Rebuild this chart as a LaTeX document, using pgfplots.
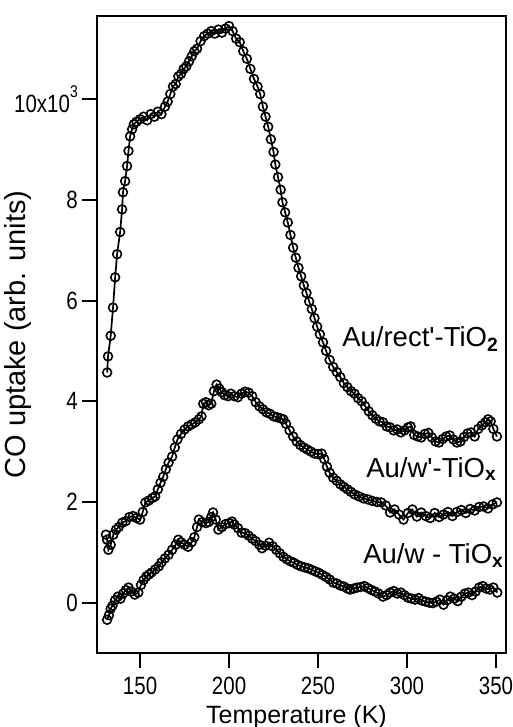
\documentclass[border=0pt]{standalone}
\usepackage{fontspec}
\setmainfont{Liberation Sans}
\newfontfamily\tickfont[FakeStretch=0.82]{Liberation Sans}
\usepackage{graphicx}
\usepackage{pgfplots}
\pgfplotsset{compat=1.18}

% CO uptake curves (arb. units) versus temperature (K)
\pgfplotstableread{
T uptake
131.5 4570
132.0 4890
133.5 5300
134.8 5860
136.0 6460
137.1 6920
138.8 7360
139.9 7810
140.4 8150
141.6 8370
142.7 8670
143.5 8970
144.4 9260
145.5 9400
146.5 9500
148 9550
150 9600
152 9650
154 9580
156 9700
158 9650
160 9750
162 9700
164 9850
165.5 9950
167 10100
168.5 10250
170 10300
171.5 10450
173 10500
174.5 10600
176 10650
177.5 10750
179 10850
180.5 10950
182 11000
184 11150
186 11250
188 11300
190 11350
192 11300
194 11380
196 11320
198 11400
200 11450
202 11350
204 11200
206 11130
208 10950
210 10800
212 10600
214 10400
216 10250
217.5 10100
219 9850
220.5 9650
222 9450
223.5 9200
225 8950
226 8700
227.5 8450
229 8200
230 7950
231.5 7750
233 7550
234.5 7300
236 7050
237.5 6850
239 6650
240.5 6480
242 6300
243.5 6150
245 5980
246.5 5830
248 5650
249.5 5480
251 5330
252.8 5170
254.5 5000
256.5 4820
258.5 4680
260.5 4580
262.5 4480
264.5 4360
266.5 4280
268.5 4200
270.5 4150
272.5 4060
274.5 4000
276.5 3900
278.5 3800
280.5 3720
282.5 3650
284.5 3600
286.5 3580
288.5 3500
290.5 3480
292.5 3420
294.5 3440
296.5 3380
298.5 3420
300.5 3480
302 3500
304 3330
306 3300
308 3280
310 3350
312 3370
314 3280
316 3200
318 3180
320 3250
322 3300
324 3320
326 3240
328 3180
330 3200
332 3290
334 3360
336 3380
338 3300
340 3450
342 3520
344 3580
345.5 3640
347 3600
348.5 3450
350.5 3300
}\rectdata

\pgfplotstableread{
T uptake
130.8 1350
131.5 1250
132.2 1050
133.5 1150
135 1350
136.5 1450
138 1500
140 1590
142 1620
144 1700
146 1720
148 1680
150 1650
151.5 1800
153 1990
155 2030
157 2080
158.5 2110
160 2250
161.5 2380
163 2500
164.5 2650
166 2780
168 2900
169.5 3080
171 3240
173 3350
175 3440
177 3500
179 3540
181 3580
183 3640
184.5 3700
185.5 3950
187 3980
188.5 3920
190 3950
191.5 4200
193 4330
194.5 4250
196 4180
197.5 4120
199.5 4100
201 4150
203 4100
205 4080
207 4150
209 4190
211 4170
213 4100
215 3980
217 3900
219 3840
221 3780
223 3750
225 3700
227 3680
229 3660
230.5 3640
232 3550
234 3420
236 3300
238 3200
240 3130
242 3080
244 3040
246 3000
248 2960
250 2950
252 2960
253.5 2850
255 2700
256.5 2580
258.5 2480
260.5 2420
262.5 2350
264.5 2300
266.5 2250
268.5 2200
270.5 2150
273 2110
275.5 2070
278 2050
280.5 2020
283 2000
285.5 1990
288 1930
290.5 1790
293 1850
295.5 1750
298 1650
300.5 1780
303 1850
305.5 1710
308 1790
310.5 1720
313 1680
315.5 1780
318 1700
320.5 1750
323 1800
325.5 1720
328 1800
330.5 1840
333 1780
335.5 1860
338 1830
340.5 1900
343 1910
345.5 1870
348 1950
350.5 1990
}\wprimedata

\pgfplotstableread{
T uptake
131.5 -340
132.5 -250
133.5 -120
134.5 -60
136 50
137.5 120
139 80
140.5 180
142 250
143.5 300
145 220
147 160
149 200
150.5 350
152 450
153.5 520
155 560
156.5 600
158.5 660
160.5 720
162 800
164 880
166 950
168 1050
170 1150
171.5 1250
173 1200
175 1150
177 1110
179 1200
180.5 1300
182 1500
183 1650
185 1600
187 1580
188.5 1600
190 1700
191 1790
192.5 1650
194 1450
196 1500
198 1560
200 1580
201.7 1610
203 1550
205 1480
207 1390
209 1380
211 1330
213 1270
215 1220
217 1150
218.5 1080
220.5 1130
222.5 1190
224.5 1120
226.5 1050
228.5 980
230.5 910
232.5 860
234.5 820
236.5 790
238.5 750
240.5 720
242.5 700
244.5 680
246.5 650
248.5 620
250.5 590
252.5 550
254.5 510
256.5 460
258.5 400
260.5 380
262.5 340
264.5 320
266.5 280
268 260
270 280
272 300
274 310
276 330
278 290
280 250
282 220
284 180
286.5 120
288.5 150
290.5 200
292.5 230
294.5 180
296.5 200
298.5 150
300.5 100
302.5 80
304.5 60
306.5 90
308.5 40
310.5 20
312.5 0
314.5 -10
316.5 20
318.5 60
320.5 -40
322.5 50
324.3 120
326.5 80
328.5 30
330.5 120
332.5 180
334.5 200
336.5 150
338.5 220
340.5 300
342.5 330
344.5 280
346.5 260
348.5 300
350.7 200
}\wdata

\pgfplotsset{
  uptake/.style={black, line width=1.7bp, mark=o, mark size=4.4bp,
    mark options={line width=1.6bp, solid, fill=none}},
}

\begin{document}
\begin{tikzpicture}
\useasboundingbox (-97bp,-74bp) rectangle (416bp,653bp);
\begin{axis}[
  at={(0,0)}, anchor=south west,
  scale only axis, width=409bp, height=637bp,
  xmin=125.8, xmax=355.6,
  ymin=-1000, ymax=11650,
  axis line style={line width=2bp},
  tick align=outside,
  tick pos=left,
  major tick length=15bp,
  every tick/.style={black, line width=2bp},
  xtick={150,200,250,300,350},
  xticklabels={150,200,250,300,350},
  ytick={0,2000,4000,6000,8000,10000},
  yticklabels={0,2,4,6,8,{10x10\raisebox{0.62em}{\fontsize{17bp}{17bp}\selectfont 3}}},
  scaled y ticks=false,
  ticklabel style={font=\tickfont\fontsize{25bp}{25bp}\selectfont, inner sep=0pt},
  yticklabel style={anchor=east, xshift=-4bp},
  xticklabel style={anchor=north, yshift=-9bp},
  xlabel={Temperature (K)},
  ylabel={CO uptake (arb. units)},
  every axis x label/.style={at={([xshift=-5bp,yshift=-70bp]axis description cs:0.5,0)}, anchor=base, font=\fontsize{25bp}{25bp}\selectfont},
  every axis y label/.style={at={([xshift=-79bp]axis description cs:0,0.5)}, anchor=center, rotate=90, font=\fontsize{29bp}{29bp}\selectfont},
  clip=false,
]
\addplot[uptake] table[x=T, y=uptake] {\rectdata};
\addplot[uptake] table[x=T, y=uptake] {\wprimedata};
\addplot[uptake] table[x=T, y=uptake] {\wdata};

\node[anchor=base west, inner sep=0pt, font=\fontsize{27.5bp}{27.5bp}\selectfont]
  at (axis cs:263.5,5090) {Au/rect\textquotesingle-TiO\textsubscript{\textbf{2}}};
\node[anchor=base west, inner sep=0pt, font=\fontsize{27.5bp}{27.5bp}\selectfont]
  at (axis cs:277,2490) {Au/w\textquotesingle-TiO\textsubscript{\textbf{x}}};
\node[anchor=base west, inner sep=0pt, font=\fontsize{27.5bp}{27.5bp}\selectfont]
  at (axis cs:275.3,780) {Au/w - TiO\textsubscript{\textbf{x}}};
\end{axis}
\end{tikzpicture}
\end{document}
